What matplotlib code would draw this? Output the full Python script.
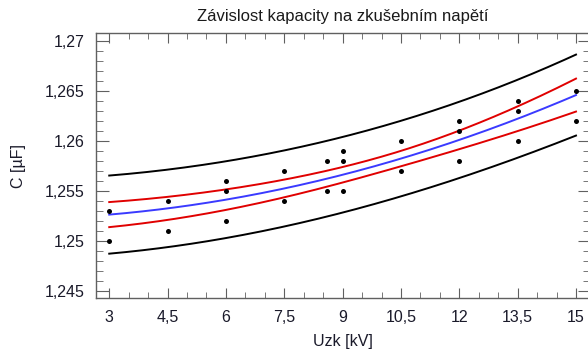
import numpy as np
import matplotlib
matplotlib.use("Agg")
import matplotlib.pyplot as plt
from matplotlib.ticker import MultipleLocator, FuncFormatter

plt.rcParams['font.family'] = ['Liberation Sans', 'DejaVu Sans']

# Measured capacitance at each test voltage
voltage_kv = [3, 3, 4.5, 4.5, 6, 6, 6, 7.5, 7.5, 8.6, 8.6, 9, 9, 9,
              10.5, 10.5, 12, 12, 12, 13.5, 13.5, 13.5, 15, 15]
capacitance_uf = [1.253, 1.250, 1.254, 1.251, 1.256, 1.255, 1.252,
                  1.257, 1.254, 1.258, 1.255, 1.259, 1.258, 1.255,
                  1.260, 1.257, 1.262, 1.261, 1.258, 1.264, 1.263, 1.260,
                  1.265, 1.262]

x_ticks = [3, 4.5, 6, 7.5, 9, 10.5, 12, 13.5, 15]
y_ticks = [1.245, 1.25, 1.255, 1.26, 1.265, 1.27]
t_crit = 2.074  # Student t, 95 %, 22 degrees of freedom

# Regression model C = a + b * U^2 with 95 % confidence and prediction limits
x = np.array(voltage_kv)
y = np.array(capacitance_uf)
X = np.column_stack([np.ones_like(x), x ** 2])
coef, *_ = np.linalg.lstsq(X, y, rcond=None)
resid = y - X @ coef
dof = len(x) - 2
s = np.sqrt(resid @ resid / dof)
XtX_inv = np.linalg.inv(X.T @ X)

xg = np.linspace(min(voltage_kv), max(voltage_kv), 200)
Xg = np.column_stack([np.ones_like(xg), xg ** 2])
fit = Xg @ coef
lev = np.einsum('ij,jk,ik->i', Xg, XtX_inv, Xg)
conf = t_crit * s * np.sqrt(lev)
pred = t_crit * s * np.sqrt(1 + lev)

fig = plt.figure(figsize=(5.88, 3.52), dpi=100)
ax = fig.add_axes([96 / 588, 1 - 298 / 352, 494 / 588, 265 / 352])

ax.plot(xg, fit + pred, color='black', lw=1.4)
ax.plot(xg, fit - pred, color='black', lw=1.4)
ax.plot(xg, fit + conf, color='#e00000', lw=1.4)
ax.plot(xg, fit - conf, color='#e00000', lw=1.4)
ax.plot(xg, fit, color='#3a3aff', lw=1.4)
ax.plot(x, y, 'o', color='black', ms=3.6, mec='none')

ax.set_xlim(2.66, 15.36)
ax.set_ylim(1.24427, 1.27077)
ax.set_xticks(x_ticks)
ax.set_yticks(y_ticks)
ax.xaxis.set_minor_locator(MultipleLocator(0.5))
ax.yaxis.set_minor_locator(MultipleLocator(0.001))

comma = FuncFormatter(lambda v, p: ('%g' % v).replace('.', ','))
ax.xaxis.set_major_formatter(comma)
ax.yaxis.set_major_formatter(comma)

spine_col = '#606060'
for side in ['left', 'bottom', 'top', 'right']:
    ax.spines[side].set_color(spine_col)
    ax.spines[side].set_linewidth(1.0)

ax.tick_params(axis='both', which='both', direction='in', colors=spine_col,
               labelcolor='#1a1a2a', labelsize=11.5,
               top=True, right=True)
ax.tick_params(axis='y', which='major', length=9, pad=8)
ax.tick_params(axis='y', which='minor', length=5)
ax.tick_params(axis='x', which='major', length=7, pad=9)
ax.tick_params(axis='x', which='minor', length=4)

ax.set_title('Závislost kapacity na zkušebním napětí', fontsize=12,
             color='#1a1a1a', pad=9)
ax.set_xlabel('Uzk [kV]', fontsize=11.5, color='#1a1a2a', labelpad=6)
ax.set_ylabel('C [µF]', fontsize=11.5, color='#1a1a2a', labelpad=14)

fig.savefig('out.png', dpi=100)
